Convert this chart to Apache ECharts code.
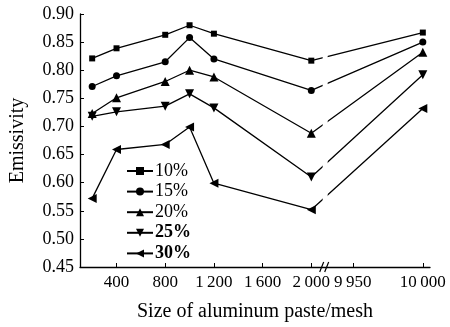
<!DOCTYPE html>
<html><head><meta charset="utf-8">
<script src="https://cdn.jsdelivr.net/npm/echarts@6/dist/echarts.min.js"></script>
<style>html,body{margin:0;padding:0;background:#fff}#c{width:450px;height:327px}</style>
</head><body><div id="c"></div>
<script>
// ---- data ----
const sizes = [200, 400, 800, 1000, 1200, 2000, 10000];
const s10 = [0.821, 0.839, 0.863, 0.880, 0.865, 0.817, 0.867];
const s15 = [0.771, 0.790, 0.815, 0.858, 0.820, 0.764, 0.850];
const s20 = [0.723, 0.751, 0.780, 0.800, 0.788, 0.688, 0.832];
const s25 = [0.718, 0.726, 0.736, 0.758, 0.733, 0.610, 0.792];
const s30 = [0.572, 0.659, 0.668, 0.699, 0.599, 0.552, 0.732];
const seriesNames = ['10%', '15%', '20%', '25%', '30%'];
const xTickValues = [400, 800, 1200, 1600, 2000, 9950, 10000];
const yMin = 0.45, yMax = 0.90, yStep = 0.05;

// ---- broken x axis mapping ----
const BREAK_T = 2118;          // axis position of the break
const RIGHT_REF = 10000, RIGHT_REF_T = 2916, RIGHT_K = 11.5;
function toAxis(x) { return x <= 5000 ? x : RIGHT_REF_T + (x - RIGHT_REF) * RIGHT_K; }
function fromAxis(t) { return t <= BREAK_T ? t : RIGHT_REF + (t - RIGHT_REF_T) / RIGHT_K; }
function fmtNum(v) {
  v = Math.round(v);
  const s = String(v);
  return v >= 1000 ? s.slice(0, s.length - 3) + '\u2009' + s.slice(-3) : s;
}

const FONT = 'Liberation Serif';
const symbols = [
  {symbol: 'rect', size: 6, rot: 0},
  {symbol: 'circle', size: 7, rot: 0},
  {symbol: 'triangle', size: 9, rot: 0},
  {symbol: 'triangle', size: 9, rot: 180},
  {symbol: 'triangle', size: 9, rot: 90}
];
const allValues = [s10, s15, s20, s25, s30];

const lineSeries = allValues.map((vals, i) => ({
  name: seriesNames[i],
  type: 'line',
  data: sizes.map((x, j) => [toAxis(x), vals[j]]),
  symbol: symbols[i].symbol,
  symbolSize: symbols[i].size,
  symbolRotate: symbols[i].rot,
  showSymbol: true,
  lineStyle: {color: '#000', width: 1.3},
  itemStyle: {color: '#000'},
  z: 2
}));

const breakSeries = {
  type: 'custom',
  silent: true,
  z: 10,
  data: [[BREAK_T, yMin]],
  renderItem: function (params, api) {
    const p = api.coord([BREAK_T, yMin]);
    const top = api.coord([BREAK_T, 0.88]);
    const low = api.coord([BREAK_T, 0.50]);
    return {
      type: 'group',
      children: [
        {type: 'rect', shape: {x: p[0] - 3, y: top[1], width: 5, height: low[1] - top[1]},
         style: {fill: '#fff'}},
        {type: 'line', shape: {x1: p[0] - 6, y1: p[1] + 5, x2: p[0] - 2, y2: p[1] - 5},
         style: {stroke: '#000', lineWidth: 1.2}},
        {type: 'line', shape: {x1: p[0] - 1, y1: p[1] + 5, x2: p[0] + 3, y2: p[1] - 5},
         style: {stroke: '#000', lineWidth: 1.2}}
      ]
    };
  }
};

const chart = echarts.init(document.getElementById('c'), null, {renderer: 'canvas'});
chart.setOption({
  animation: false,
  backgroundColor: '#fff',
  textStyle: {fontFamily: FONT, color: '#000'},
  grid: {left: 76, right: 20, top: 14, bottom: 54, containLabel: false},
  legend: {
    orient: 'vertical',
    left: 121,
    top: 157,
    itemWidth: 26,
    itemHeight: 10,
    itemGap: 2.6,
    data: seriesNames,
    textStyle: {fontFamily: FONT, fontSize: 18, color: '#000', padding: [0, 0, 0, -3],
      rich: {b: {fontFamily: FONT, fontSize: 18, fontWeight: 'bold', color: '#000'}}},
    formatter: function (name) { return (name === '25%' || name === '30%') ? '{b|' + name + '}' : name; }
  },
  xAxis: {
    type: 'value',
    min: 100,
    max: 2975,
    name: 'Size of aluminum paste/mesh',
    nameLocation: 'middle',
    nameGap: 35,
    nameTextStyle: {fontFamily: FONT, fontSize: 20, color: '#000'},
    axisLine: {lineStyle: {color: '#000', width: 1.3}},
    axisTick: {inside: true, length: 4, lineStyle: {color: '#000'},
      customValues: xTickValues.map(toAxis)},
    axisLabel: {fontFamily: FONT, fontSize: 17, color: '#000', margin: 7,
      customValues: xTickValues.map(toAxis),
      formatter: function (v) { return fmtNum(fromAxis(v)); }},
    splitLine: {show: false}
  },
  yAxis: {
    type: 'value',
    min: yMin,
    max: yMax,
    interval: yStep,
    name: 'Emissivity',
    nameLocation: 'middle',
    nameGap: 52,
    nameTextStyle: {fontFamily: FONT, fontSize: 20, color: '#000'},
    axisLine: {show: true, lineStyle: {color: '#000', width: 1.3}},
    axisTick: {show: true, inside: true, length: 4, lineStyle: {color: '#000'}},
    axisLabel: {fontFamily: FONT, fontSize: 18, color: '#000', margin: 6,
      formatter: function (v) { return v.toFixed(2); }},
    splitLine: {show: false}
  },
  series: lineSeries.concat([breakSeries])
});
</script>
</body></html>
